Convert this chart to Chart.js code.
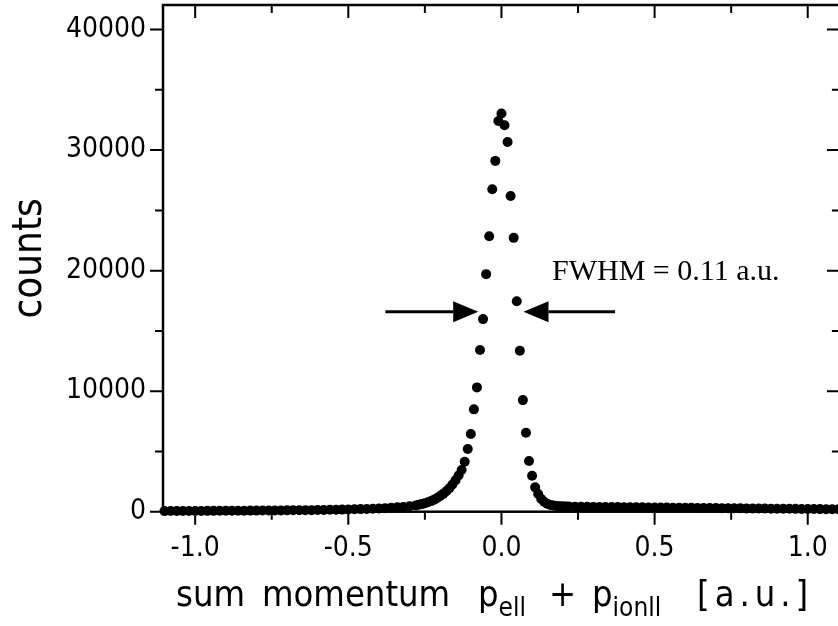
<!DOCTYPE html>
<html>
<head>
<meta charset="utf-8">
<script src="https://cdn.jsdelivr.net/npm/chart.js@4.4.0/dist/chart.umd.min.js"></script>
<style>
  html, body { margin: 0; padding: 0; background: #fff; overflow: hidden; }
  #wrap { position: relative; width: 846px; height: 626px; }
  #xtitle span {
    position: absolute; top: 576px;
    font: 36px "DejaVu Sans Condensed", Roboto, sans-serif;
    line-height: 1; white-space: pre; color: #000;
  }
  #xtitle sub { font-size: 26px; vertical-align: -10px; line-height: 1; }
  #fwhm {
    position: absolute; left: 552px; top: 255px;
    font: 30px "Liberation Serif", "DejaVu Serif", serif;
    line-height: 1; white-space: pre; color: #000;
  }
</style>
</head>
<body>
<div id="wrap">
  <canvas id="chart" width="846" height="626"></canvas>
  <div id="xtitle">
    <span style="left:176px">sum</span>
    <span style="left:262px">momentum</span>
    <span style="left:478px">p<sub>ell</sub></span>
    <span style="left:549px">+</span>
    <span style="left:592px">p<sub>ionll</sub></span>
    <span style="left:697px; letter-spacing:5px">[a.u.]</span>
  </div>
  <div id="fwhm">FWHM = 0.11 a.u.</div>
</div>
<script>
// sum momentum bins [a.u.]
const momentum = [
  -1.10, -1.08, -1.06, -1.04, -1.02, -1.00, -0.98, -0.96, -0.94, -0.92,
  -0.90, -0.88, -0.86, -0.84, -0.82, -0.80, -0.78, -0.76, -0.74, -0.72,
  -0.70, -0.68, -0.66, -0.64, -0.62, -0.60, -0.58, -0.56, -0.54, -0.52,
  -0.50, -0.48, -0.46, -0.44, -0.42, -0.40, -0.38, -0.36, -0.34, -0.32,
  -0.30, -0.28,
  -0.27, -0.26, -0.25, -0.24, -0.23, -0.22, -0.21, -0.20, -0.19, -0.18,
  -0.17, -0.16, -0.15, -0.14, -0.13, -0.12, -0.11, -0.10, -0.09, -0.08,
  -0.07, -0.06, -0.05, -0.04, -0.03, -0.02, -0.01, 0.00, 0.01, 0.02,
  0.03, 0.04, 0.05, 0.06, 0.07, 0.08, 0.09, 0.10, 0.11, 0.12,
  0.13, 0.14, 0.15, 0.16, 0.17, 0.18, 0.19, 0.20, 0.21, 0.22,
  0.24, 0.26, 0.28, 0.30, 0.32, 0.34, 0.36, 0.38, 0.40, 0.42,
  0.44, 0.46, 0.48, 0.50, 0.52, 0.54, 0.56, 0.58, 0.60, 0.62,
  0.64, 0.66, 0.68, 0.70, 0.72, 0.74, 0.76, 0.78, 0.80, 0.82,
  0.84, 0.86, 0.88, 0.90, 0.92, 0.94, 0.96, 0.98, 1.00, 1.02,
  1.04, 1.06, 1.08, 1.10
];
const counts = [
  50, 55, 55, 60, 60, 65, 65, 70, 70, 75,
  75, 80, 80, 85, 90, 90, 95, 100, 100, 105,
  110, 115, 120, 125, 130, 135, 145, 155, 165, 175,
  185, 200, 215, 230, 250, 270, 295, 325, 360, 400,
  450, 510,
  570, 630, 700, 780, 880, 1000, 1140, 1300, 1480, 1700,
  1950, 2250, 2600, 3000, 3460, 4145, 5200, 6440, 8490, 10315,
  13410, 15980, 19710, 22860, 26760, 29105, 32420, 33035, 32065, 30680,
  26200, 22720, 17460, 13350, 9260, 6550, 4200, 2985, 2020, 1470,
  1050, 800, 650, 555, 510, 480, 460, 450, 440, 430,
  420, 410, 405, 400, 395, 390, 385, 380, 375, 370,
  365, 360, 355, 350, 345, 340, 335, 330, 325, 320,
  315, 310, 305, 300, 295, 290, 285, 280, 275, 270,
  265, 260, 255, 250, 245, 240, 235, 230, 225, 220,
  215, 210, 205, 200
];

const xTicks = [-1.0, -0.5, 0.0, 0.5, 1.0];
const xMinorTicks = [-0.75, -0.25, 0.25, 0.75];
const yTicks = [0, 10000, 20000, 30000, 40000];
const yMinorTicks = [5000, 15000, 25000, 35000];
const xRange = [-1.105, 1.105];
const yRange = [0, 42040];

// FWHM marker: arrows at half maximum, [tail, tip] in momentum units
const halfMax = 16580;
const fwhmArrows = [[-0.379, -0.076], [0.371, 0.072]];

const labelFont = { family: '"DejaVu Sans Condensed", Roboto, sans-serif', size: 28 };

const framePlugin = {
  id: 'frame',
  afterDatasetsDraw(chart) {
    const { ctx, chartArea: a, scales: { x, y } } = chart;
    ctx.save();
    ctx.strokeStyle = '#000';
    ctx.fillStyle = '#000';
    ctx.lineWidth = 2.5;
    ctx.strokeRect(a.left, a.top, a.right - a.left, a.bottom - a.top);

    ctx.lineWidth = 2;
    ctx.beginPath();
    xTicks.concat(xMinorTicks).forEach(v => {
      const len = xTicks.includes(v) ? 13 : 8;
      const px = x.getPixelForValue(v);
      ctx.moveTo(px, a.bottom); ctx.lineTo(px, a.bottom + len);
      ctx.moveTo(px, a.top); ctx.lineTo(px, a.top + len);
    });
    yTicks.concat(yMinorTicks).forEach(v => {
      const len = yTicks.includes(v) ? 13 : 8;
      const py = y.getPixelForValue(v);
      ctx.moveTo(a.left - len, py); ctx.lineTo(a.left, py);
      ctx.moveTo(a.right - len, py); ctx.lineTo(a.right, py);
    });
    ctx.stroke();

    const py = y.getPixelForValue(halfMax);
    fwhmArrows.forEach(([from, to]) => {
      const x0 = x.getPixelForValue(from);
      const x1 = x.getPixelForValue(to);
      const dir = Math.sign(x1 - x0);
      const head = 25;
      ctx.lineWidth = 3;
      ctx.beginPath();
      ctx.moveTo(x0, py);
      ctx.lineTo(x1 - dir * head, py);
      ctx.stroke();
      ctx.beginPath();
      ctx.moveTo(x1, py);
      ctx.lineTo(x1 - dir * head, py - 10.5);
      ctx.lineTo(x1 - dir * head, py + 10.5);
      ctx.closePath();
      ctx.fill();
    });
    ctx.restore();
  }
};

// keep the plot box where the picture has it: no label padding added
const fixPadding = s => {
  s.paddingTop = 0; s.paddingBottom = 0; s.paddingLeft = 0; s.paddingRight = 0;
};

new Chart(document.getElementById('chart'), {
  type: 'scatter',
  data: {
    datasets: [{
      data: momentum.map((m, i) => ({ x: m, y: counts[i] })),
      pointRadius: 5,
      pointHoverRadius: 5,
      pointBackgroundColor: '#000',
      pointBorderWidth: 0,
      clip: false
    }]
  },
  options: {
    responsive: false,
    animation: false,
    events: [],
    layout: { padding: { top: 4.7, right: 6.1, left: 0, bottom: 0 } },
    plugins: {
      legend: { display: false },
      tooltip: { enabled: false }
    },
    scales: {
      x: {
        type: 'linear',
        min: xRange[0],
        max: xRange[1],
        grid: { display: false },
        border: { display: false },
        afterBuildTicks: s => { s.ticks = xTicks.map(v => ({ value: v })); },
        afterFit: s => { s.height = 114.3; fixPadding(s); },
        ticks: {
          color: '#000',
          font: labelFont,
          padding: 12,
          maxRotation: 0,
          autoSkip: false,
          callback: v => v.toFixed(1)
        }
      },
      y: {
        type: 'linear',
        min: yRange[0],
        max: yRange[1],
        grid: { display: false },
        border: { display: false },
        afterBuildTicks: s => { s.ticks = yTicks.map(v => ({ value: v })); },
        afterFit: s => { s.width = 163; fixPadding(s); },
        ticks: {
          color: '#000',
          font: labelFont,
          padding: 9,
          autoSkip: false,
          callback: v => String(v)
        },
        title: {
          display: true,
          text: 'counts',
          color: '#000',
          font: { family: '"DejaVu Sans Condensed", Roboto, sans-serif', size: 40 },
          padding: { top: 7, bottom: 0 }
        }
      }
    }
  },
  plugins: [framePlugin]
});
</script>
</body>
</html>
